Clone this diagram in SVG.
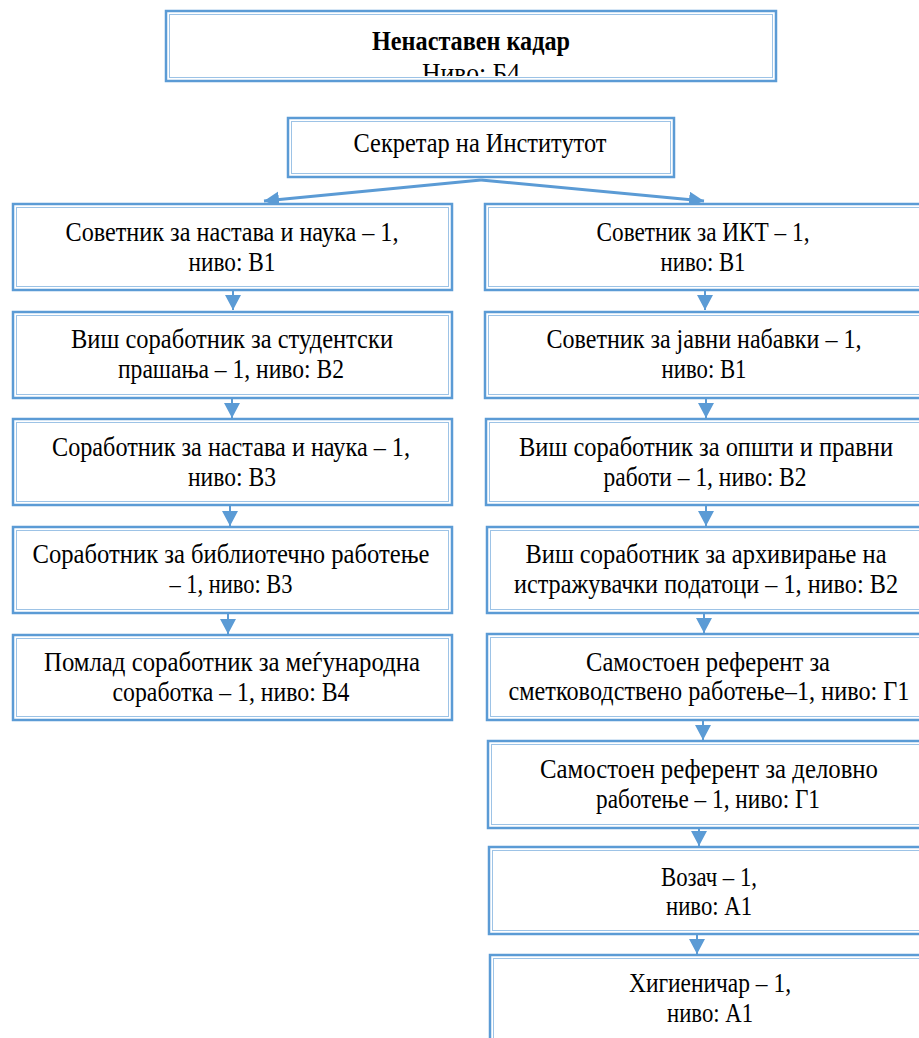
<svg xmlns="http://www.w3.org/2000/svg" width="919" height="1038" viewBox="0 0 919 1038">
<style>
.o{fill:#fff;stroke:#5b9bd5;stroke-width:2.5}
.i{fill:none;stroke:#9dc3e6;stroke-width:1}
.t{font-family:"Liberation Serif",serif;font-size:27px;fill:#000;text-anchor:middle}
.b{font-weight:bold}
.c{stroke:#5b9bd5;stroke-width:2;fill:none}
.d{stroke:#5b9bd5;stroke-width:3;fill:none}
</style>
<defs>
<marker id="ah" markerUnits="userSpaceOnUse" markerWidth="18" markerHeight="18" refX="15" refY="8" orient="auto">
<path d="M0,0 L15,8 L0,16 Z" fill="#5b9bd5"/>
</marker>
<clipPath id="topclip"><rect x="168" y="13" width="606" height="63"/></clipPath>
</defs>

<g id="connectors">
<line class="d" x1="481" y1="180" x2="264" y2="201" marker-end="url(#ah)"/>
<line class="d" x1="481" y1="180" x2="704" y2="201" marker-end="url(#ah)"/>
<line class="c" x1="233" y1="291" x2="233" y2="310" marker-end="url(#ah)"/>
<line class="c" x1="232" y1="399" x2="232" y2="418" marker-end="url(#ah)"/>
<line class="c" x1="230" y1="506" x2="230" y2="526" marker-end="url(#ah)"/>
<line class="c" x1="228" y1="614" x2="228" y2="634" marker-end="url(#ah)"/>
<line class="c" x1="705" y1="291" x2="705" y2="310" marker-end="url(#ah)"/>
<line class="c" x1="706" y1="399" x2="706" y2="418" marker-end="url(#ah)"/>
<line class="c" x1="706" y1="506" x2="706" y2="526" marker-end="url(#ah)"/>
<line class="c" x1="704" y1="614" x2="704" y2="633" marker-end="url(#ah)"/>
<line class="c" x1="703" y1="721" x2="703" y2="740" marker-end="url(#ah)"/>
<line class="c" x1="699" y1="829" x2="699" y2="846" marker-end="url(#ah)"/>
<line class="c" x1="697" y1="935" x2="697" y2="954" marker-end="url(#ah)"/>
</g>

<g id="top">
<rect class="o" x="166" y="11" width="610" height="70"/>
<rect class="i" x="169.5" y="14.5" width="603" height="63"/>
<text class="t b" x="471" y="50" textLength="198" lengthAdjust="spacingAndGlyphs">Ненаставен кадар</text>
<g clip-path="url(#topclip)"><text class="t" x="471" y="82" textLength="98" lengthAdjust="spacingAndGlyphs">Ниво: Б4</text></g>
</g>

<g id="secretary">
<rect class="o" x="288" y="118" width="386" height="59"/>
<rect class="i" x="291.5" y="121.5" width="379" height="52"/>
<text class="t" x="480" y="152" textLength="253" lengthAdjust="spacingAndGlyphs">Секретар на Институтот</text>
</g>

<g id="L1">
<rect class="o" x="13" y="204" width="439" height="86"/>
<rect class="i" x="16.5" y="207.5" width="432" height="79"/>
<text class="t" x="232" y="241" textLength="333" lengthAdjust="spacingAndGlyphs">Советник за настава и наука – 1,</text>
<text class="t" x="232" y="271" textLength="87" lengthAdjust="spacingAndGlyphs">ниво: В1</text>
</g>
<g id="L2">
<rect class="o" x="13" y="312" width="439" height="86"/>
<rect class="i" x="16.5" y="315.5" width="432" height="79"/>
<text class="t" x="232" y="348" textLength="322" lengthAdjust="spacingAndGlyphs">Виш соработник за студентски</text>
<text class="t" x="231" y="378" textLength="226" lengthAdjust="spacingAndGlyphs">прашања – 1, ниво: В2</text>
</g>
<g id="L3">
<rect class="o" x="13" y="419" width="439" height="86"/>
<rect class="i" x="16.5" y="422.5" width="432" height="79"/>
<text class="t" x="231" y="456" textLength="358" lengthAdjust="spacingAndGlyphs">Соработник за настава и наука – 1,</text>
<text class="t" x="232" y="486" textLength="88" lengthAdjust="spacingAndGlyphs">ниво: В3</text>
</g>
<g id="L4">
<rect class="o" x="13" y="527" width="439" height="86"/>
<rect class="i" x="16.5" y="530.5" width="432" height="79"/>
<text class="t" x="231" y="563" textLength="397" lengthAdjust="spacingAndGlyphs">Соработник за библиотечно работење</text>
<text class="t" x="231" y="593" textLength="123" lengthAdjust="spacingAndGlyphs">– 1, ниво: В3</text>
</g>
<g id="L5">
<rect class="o" x="13" y="635" width="439" height="85"/>
<rect class="i" x="16.5" y="638.5" width="432" height="78"/>
<text class="t" x="232" y="671" textLength="376" lengthAdjust="spacingAndGlyphs">Помлад соработник за меѓународна</text>
<text class="t" x="231" y="701" textLength="237" lengthAdjust="spacingAndGlyphs">соработка – 1, ниво: В4</text>
</g>

<g id="R1">
<rect class="o" x="485" y="204" width="450" height="86"/>
<rect class="i" x="488.5" y="207.5" width="443" height="79"/>
<text class="t" x="703" y="241" textLength="213" lengthAdjust="spacingAndGlyphs">Советник за ИКТ – 1,</text>
<text class="t" x="703" y="271" textLength="85" lengthAdjust="spacingAndGlyphs">ниво: В1</text>
</g>
<g id="R2">
<rect class="o" x="485" y="312" width="450" height="86"/>
<rect class="i" x="488.5" y="315.5" width="443" height="79"/>
<text class="t" x="704" y="348" textLength="315" lengthAdjust="spacingAndGlyphs">Советник за јавни набавки – 1,</text>
<text class="t" x="704" y="378" textLength="85" lengthAdjust="spacingAndGlyphs">ниво: В1</text>
</g>
<g id="R3">
<rect class="o" x="486" y="419" width="450" height="86"/>
<rect class="i" x="489.5" y="422.5" width="443" height="79"/>
<text class="t" x="706" y="456" textLength="374" lengthAdjust="spacingAndGlyphs">Виш соработник за општи и правни</text>
<text class="t" x="705" y="486" textLength="203" lengthAdjust="spacingAndGlyphs">работи – 1, ниво: В2</text>
</g>
<g id="R4">
<rect class="o" x="487" y="527" width="450" height="86"/>
<rect class="i" x="490.5" y="530.5" width="443" height="79"/>
<text class="t" x="706" y="563" textLength="361" lengthAdjust="spacingAndGlyphs">Виш соработник за архивирање на</text>
<text class="t" x="706" y="593" textLength="384" lengthAdjust="spacingAndGlyphs">истражувачки податоци – 1, ниво: В2</text>
</g>
<g id="R5">
<rect class="o" x="487" y="634" width="450" height="86"/>
<rect class="i" x="490.5" y="637.5" width="443" height="79"/>
<text class="t" x="708" y="671" textLength="244" lengthAdjust="spacingAndGlyphs">Самостоен референт за</text>
<text class="t" x="709" y="700" textLength="401" lengthAdjust="spacingAndGlyphs">сметководствено работење–1, ниво: Г1</text>
</g>
<g id="R6">
<rect class="o" x="488" y="741" width="450" height="87"/>
<rect class="i" x="491.5" y="744.5" width="443" height="80"/>
<text class="t" x="709" y="778" textLength="338" lengthAdjust="spacingAndGlyphs">Самостоен референт за деловно</text>
<text class="t" x="708" y="808" textLength="224" lengthAdjust="spacingAndGlyphs">работење – 1, ниво: Г1</text>
</g>
<g id="R7">
<rect class="o" x="489" y="847" width="450" height="87"/>
<rect class="i" x="492.5" y="850.5" width="443" height="80"/>
<text class="t" x="709" y="886" textLength="96" lengthAdjust="spacingAndGlyphs">Возач – 1,</text>
<text class="t" x="709" y="915" textLength="86" lengthAdjust="spacingAndGlyphs">ниво: А1</text>
</g>
<g id="R8">
<rect class="o" x="490" y="955" width="450" height="100"/>
<rect class="i" x="493.5" y="958.5" width="443" height="93"/>
<text class="t" x="710" y="992" textLength="162" lengthAdjust="spacingAndGlyphs">Хигиеничар – 1,</text>
<text class="t" x="710" y="1022" textLength="86" lengthAdjust="spacingAndGlyphs">ниво: А1</text>
</g>
</svg>
